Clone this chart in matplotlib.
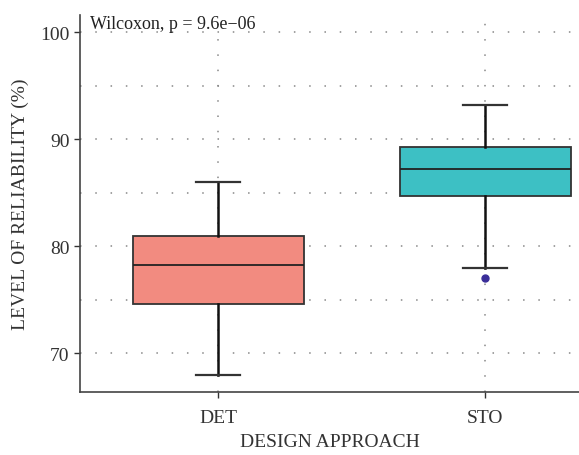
import numpy as np
import matplotlib.pyplot as plt
from matplotlib.ticker import MultipleLocator

plt.rcParams['font.family'] = ['Liberation Serif', 'DejaVu Serif']

# Box summaries read per design approach
groups = ['DET', 'STO']
q1 = [74.6, 84.7]
med = [78.2, 87.2]
q3 = [80.95, 89.3]
whislo = [67.95, 77.95]
whishi = [86.0, 93.2]
fliers = [[], [77.05]]
colors = ['#F28B80', '#3DC0C4']

fig = plt.figure(figsize=(5.79, 4.56), dpi=100)
ax = fig.add_axes([0.138, 0.138, 0.862, 0.827])

stats = []
for i, g in enumerate(groups):
    stats.append(dict(label=g, q1=q1[i], med=med[i], q3=q3[i],
                      whislo=whislo[i], whishi=whishi[i], fliers=fliers[i]))

bp = ax.bxp(stats, positions=[1, 2], widths=0.64, patch_artist=True,
            boxprops=dict(edgecolor='#333333', linewidth=1.3),
            medianprops=dict(color='#222222', linewidth=1.3),
            whiskerprops=dict(color='#111111', linewidth=1.8),
            capprops=dict(color='#333333', linewidth=1.6),
            capwidths=0.165,
            flierprops=dict(marker='o', markersize=5, markerfacecolor='#3A2E99',
                            markeredgecolor='#3A2E99'),
            zorder=3)
for patch, c in zip(bp['boxes'], colors):
    patch.set_facecolor(c)

ax.set_xlim(0.483, 2.35)
ax.set_ylim(66.35, 101.6)
ax.yaxis.set_major_locator(MultipleLocator(10))
ax.yaxis.set_minor_locator(MultipleLocator(5))
ax.tick_params(axis='y', which='minor', length=0)
ax.tick_params(axis='both', which='major', length=4, width=1, color='#333333',
               labelsize=14, labelcolor='#333333')
ax.tick_params(axis='x', pad=8)

dots = dict(color='#888888', linestyle=(0, (1, 9)), linewidth=1.1)
ax.grid(True, which='major', **dots)
ax.grid(True, which='minor', axis='y', **dots)
ax.set_axisbelow(True)

for s in ['top', 'right']:
    ax.spines[s].set_visible(False)
for s in ['left', 'bottom']:
    ax.spines[s].set_color('#444444')
    ax.spines[s].set_linewidth(1.2)

ax.set_xlabel('DESIGN APPROACH', fontsize=14, color='#333333', labelpad=5)
ax.set_ylabel('LEVEL OF RELIABILITY (%)', fontsize=14, color='#333333', labelpad=8)

ax.text(0.02, 1.0, 'Wilcoxon, p = 9.6e\u221206', transform=ax.transAxes,
        fontsize=13, color='#222222', va='top', ha='left')

fig.savefig('out.png', dpi=100)
